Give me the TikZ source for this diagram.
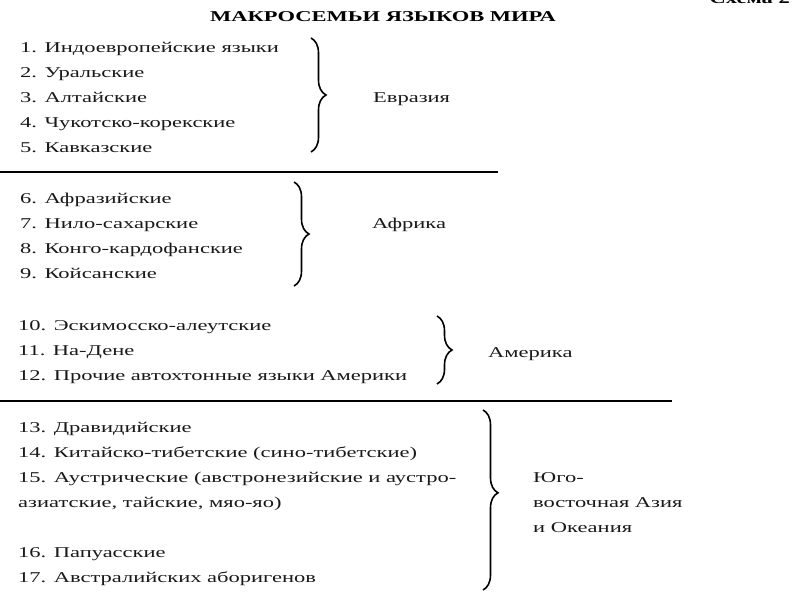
\documentclass[tikz,border=0pt]{standalone}
\usepackage{fontspec}
\setmainfont[FakeStretch=1.5]{Liberation Serif}
\usetikzlibrary{positioning,decorations.pathreplacing}

\begin{document}
\begin{tikzpicture}[
  x=1pt, y=-1pt,
  every node/.style={font=\fontsize{15}{18}\selectfont, text=black!90, inner sep=0pt},
  item/.style  ={anchor=base west},
  region/.style={anchor=base west, align=left},
  title/.style ={font=\fontsize{15}{18}\selectfont\bfseries, text=black},
  curly/.style ={draw, line width=1.6pt, decorate,
                 decoration={brace, amplitude=15pt}},
  rule/.style  ={draw, line width=1.4pt}]

\useasboundingbox (0,0) rectangle (800,600);

\node[title] (head)  at (383,17) {МАКРОСЕМЬИ ЯЗЫКОВ МИРА};
\node[title, anchor=base east] (scheme) at (790,3) {Схема 2};

%% Eurasia
\node[item] (i1) at (20,52)  {1. Индоевропейские языки};
\node[item] (i2) at (20,77)  {2. Уральские};
\node[item] (i3) at (20,102) {3. Алтайские};
\node[item] (i4) at (20,127) {4. Чукотско-корекские};
\node[item] (i5) at (20,152) {5. Кавказские};
\coordinate (eurTop) at (311,38);
\coordinate (eurBot) at (311,152);
\draw[curly] (eurTop) -- (eurBot);
\node[region] (eur) at (373,102) {Евразия};

\coordinate (sepAL) at (0,172);
\coordinate (sepAR) at (498,172);
\draw[rule] (sepAL) -- (sepAR);

%% Africa
\node[item] (i6) at (20,203) {6. Афразийские};
\node[item] (i7) at (20,228) {7. Нило-сахарские};
\node[item] (i8) at (20,253) {8. Конго-кардофанские};
\node[item] (i9) at (20,278) {9. Койсанские};
\coordinate (afrTop) at (294,182);
\coordinate (afrBot) at (294,286);
\draw[curly] (afrTop) -- (afrBot);
\node[region] (afr) at (372,228) {Африка};

%% America
\node[item] (i10) at (18,330) {10. Эскимосско-алеутские};
\node[item] (i11) at (18,355) {11. На-Дене};
\node[item] (i12) at (18,380) {12. Прочие автохтонные языки Америки};
\coordinate (amTop) at (437,316);
\coordinate (amBot) at (437,384);
\draw[curly] (amTop) -- (amBot);
\node[region] (am) at (488,357) {Америка};

\coordinate (sepBL) at (0,401);
\coordinate (sepBR) at (672,401);
\draw[rule] (sepBL) -- (sepBR);

%% South-East Asia and Oceania
\node[item] (i13)  at (18,432) {13. Дравидийские};
\node[item] (i14)  at (18,457) {14. Китайско-тибетские (сино-тибетские)};
\node[item] (i15)  at (18,482) {15. Аустрические (австронезийские и аустро-};
\node[item] (i15b) at (18,507) {азиатские, тайские, мяо-яо)};
\node[item] (i16)  at (18,557) {16. Папуасские};
\node[item] (i17)  at (18,582) {17. Австралийских аборигенов};
\coordinate (seaTop) at (483,410);
\coordinate (seaBot) at (483,590);
\draw[curly, decoration={aspect=0.46}] (seaTop) -- (seaBot);
\node[region] (sea)  at (533,482) {Юго-};
\node[region] (sea2) at (533,507) {восточная Азия};
\node[region] (sea3) at (533,532) {и Океания};
\end{tikzpicture}
\end{document}
